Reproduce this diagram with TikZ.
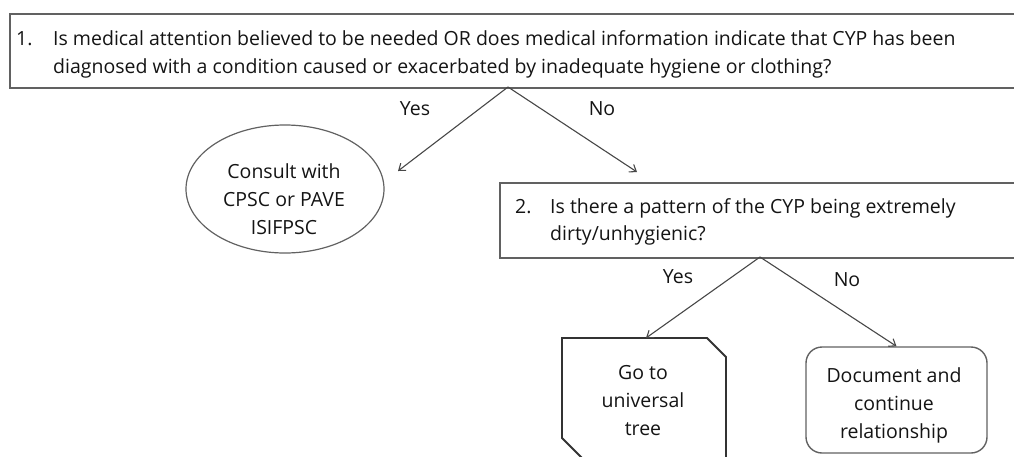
\documentclass[tikz,border=0pt]{standalone}
\usepackage{fontspec}
\setmainfont{Open Sans}
\usetikzlibrary{arrows.meta,shapes.geometric}
\begin{document}
\begin{tikzpicture}[x=1pt,y=-1pt,
  txt/.style={font=\fontsize{19.5}{28}\selectfont, text=black!92, inner sep=0pt},
  qframe/.style={draw=black!62, line width=1.7pt, rectangle, inner sep=0pt},
  link/.style={draw=black!72, line width=1.1pt, -{Straight Barb[length=6pt,width=9pt]}}]
\useasboundingbox (0,0) rectangle (1014,456);
\clip (0,0) rectangle (1014,456);

% question 1
\node[qframe, anchor=north west, minimum width=1020pt, minimum height=74pt] (q1) at (9,13) {};
\node[txt, anchor=base west] (q1num) at (16,45) {1.};
\node[txt, anchor=base west] (q1a) at (53,45) {Is medical attention believed to be needed OR does medical information indicate that CYP has been};
\node[txt, anchor=base west] (q1b) at (53,73) {diagnosed with a condition caused or exacerbated by inadequate hygiene or clothing?};

% question 2
\node[qframe, anchor=north west, minimum width=530pt, minimum height=75pt] (q2) at (499,182) {};
\node[txt, anchor=base west] (q2num) at (515,213) {2.};
\node[txt, anchor=base west] (q2a) at (550,213) {Is there a pattern of the CYP being extremely};
\node[txt, anchor=base west] (q2b) at (550,240) {dirty/unhygienic?};

% consult outcome
\node[ellipse, draw=black!62, line width=1.2pt, minimum width=198pt, minimum height=128pt] (consult) at (285,189) {};
\node[txt, align=center] (consulttxt) at (284,199) {Consult with\\CPSC or PAVE\\ISIFPSC};

% universal tree outcome (snipped corners)
\draw[draw=black!80, line width=1.8pt] (562,338) -- (707,338) -- (726,357) -- (726,458) -- (582,458) -- (562,438) -- cycle;
\coordinate (gotop) at (646,338);
\node[txt, align=center] (gototxt) at (643,401) {Go to\\universal\\tree};

% document outcome
\node[draw=black!62, line width=1.4pt, rounded corners=16pt, minimum width=181pt, minimum height=106pt] (doc) at (896.5,400) {};
\node[txt, align=center] (doctxt) at (894,405) {Document and\\continue\\relationship};

% branch points and free arrow ends
\coordinate (a1) at (508,87);
\coordinate (a2) at (760,257);
\coordinate (yes1end) at (398,171);
\coordinate (no1end) at (637,172);

\draw[link] (a1) -- (yes1end);
\draw[link] (a1) -- (no1end);
\draw[link] (a2) -- (gotop);
\draw[link] (a2) -- (doc.north);

% branch labels
\node[txt] (yes1) at (415,109) {Yes};
\node[txt] (no1) at (602,109) {No};
\node[txt] (yes2) at (678,277) {Yes};
\node[txt] (no2) at (847,280) {No};
\end{tikzpicture}
\end{document}
